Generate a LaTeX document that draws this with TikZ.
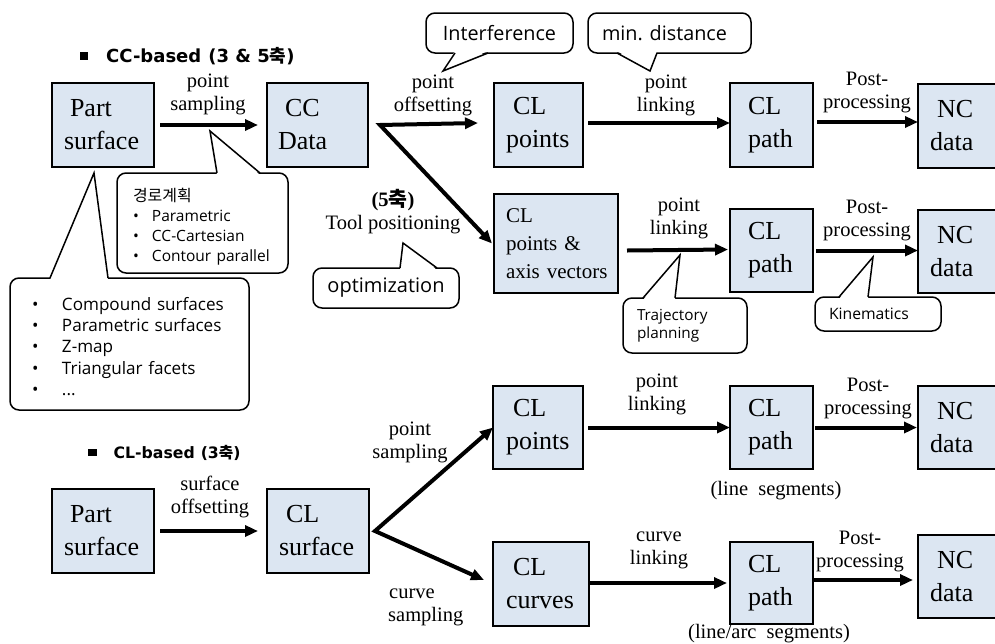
\documentclass[tikz,border=0pt]{standalone}
\usepackage{fontspec}
\setmainfont{Liberation Serif}
\newfontfamily\callfont{Open Sans}
\newfontfamily\cjk{Noto Sans CJK KR}
\newfontfamily\headfont{DejaVu Sans}
\usetikzlibrary{arrows.meta}
\definecolor{boxblue}{HTML}{DCE6F2}

\tikzset{
  box/.style={draw=black, line width=1.6pt, fill=boxblue, align=left,
    inner ysep=0pt, outer sep=0pt, anchor=north west,
    font=\fontsize{26}{33}\selectfont},
  geom/.style n args={3}{text width=#1pt, inner xsep=#2pt, minimum height=#3pt},
  arr/.style={line width=4pt, -{Triangle[length=13pt,width=11pt]}},
  fork/.style={line width=4pt, line join=miter,
    {Triangle[length=13pt,width=11pt]}-{Triangle[length=13pt,width=11pt]}},
  lbl/.style={align=center, inner sep=0pt, font=\fontsize{20.5}{23.5}\selectfont},
  callout/.style={draw=black, line width=1.5pt, fill=white, rounded corners=9pt,
    outer sep=0pt, anchor=north west, inner ysep=0pt},
  tail/.style={draw=black, line width=1.5pt, line join=miter},
  head/.style={anchor=base west, inner sep=0pt},
}
% one bullet entry of a callout list
\newcommand\bulletitem[2]{\mbox{\makebox[#1][l]{•}#2}}

\begin{document}
\begin{tikzpicture}[x=1pt,y=-1pt]
\useasboundingbox (0,0) rectangle (995,643);
\clip (0,0) rectangle (995,643);

% ---------------- section headers ----------------
\node[head, font=\headfont\bfseries\fontsize{18}{20}\selectfont] (h1) at (80,62)
  {\raisebox{2pt}{\rule{8pt}{8pt}}\hspace{18pt}CC-based\hspace{7pt}(3 \& 5{\cjk\bfseries 축})};
\node[head, font=\headfont\bfseries\fontsize{15.7}{18}\selectfont] (h2) at (88,458)
  {\raisebox{2pt}{\rule{8.5pt}{7.5pt}}\hspace{17pt}CL-based\hspace{6pt}(3{\cjk\bfseries 축})};

% ---------------- CC-based chain ----------------
\node[box, geom={78}{12}{84}] (ps1) at (52,83) {\hspace*{6pt}Part\\surface};
\node[box, geom={79}{11}{84}] (cc) at (267,83) {\hspace*{7pt}CC\\Data};
\node[box, geom={65}{12}{84}] (clp1) at (494,83) {\hspace*{7pt}CL\\points};
\node[box, geom={47}{18}{84}] (path1) at (730,83) {CL\\path};
\node[box, geom={76}{12}{84}] (nc1) at (918,84) {\hspace*{7pt}NC\\data};

\node[box, geom={100}{12}{99}, font=\fontsize{21}{28}\selectfont] (clax) at (494,194)
  {CL\\\mbox{points \&}\\\mbox{axis vectors}};
\node[box, geom={47}{18}{83}] (path2) at (730,209) {CL\\path};
\node[box, geom={76}{12}{83}] (nc2) at (918,210) {\hspace*{7pt}NC\\data};

% ---------------- CL-based chain ----------------
\node[box, geom={78}{12}{84}] (ps2) at (52,489) {\hspace*{6pt}Part\\surface};
\node[box, geom={78}{12}{84}] (cls) at (267,489) {\hspace*{7pt}CL\\surface};
\node[box, geom={64}{13}{83}] (clp3) at (493,386) {\hspace*{7pt}CL\\points};
\node[box, geom={47}{18}{83}] (path3) at (730,386) {CL\\path};
\node[box, geom={76}{12}{83}] (nc3) at (918,386) {\hspace*{7pt}NC\\data};
\node[box, geom={70}{13}{84}] (clc) at (493,542) {\hspace*{7pt}CL\\curves};
\node[box, geom={47}{18}{82}] (path4) at (730,542) {CL\\path};
\node[box, geom={76}{12}{83}] (nc4) at (918,535) {\hspace*{7pt}NC\\data};

% ---------------- arrows ----------------
\draw[arr] ([xshift=6pt]ps1.east) -- ([xshift=-9pt]cc.west);
\coordinate (f1) at ([xshift=12pt]cc.east);
\draw[fork] ([xshift=-16pt,yshift=2pt]clp1.west) -- (f1) -- ([xshift=-2pt]clax.west);
\draw[arr] ([xshift=5pt,yshift=2pt]clp1.east) -- ([yshift=2pt]path1.west);
\draw[arr] ([xshift=4pt,yshift=3pt]path1.east) -- ([yshift=3pt]path1.east -| nc1.west);
\draw[arr] ([xshift=9pt]clax.east |- path2.west) -- ([xshift=-2pt,yshift=1pt]path2.west);
\draw[arr] ([xshift=3pt]path2.east) -- (path2.east -| nc2.west);

\draw[arr] ([xshift=6pt]ps2.east) -- ([xshift=-9pt]cls.west);
\coordinate (f2) at ([xshift=6pt]cls.east);
\draw[fork] (clp3.west) -- (f2) -- ([xshift=-9pt,yshift=4pt]clc.west);
\draw[arr] ([xshift=5pt]clp3.east) -- (path3.west);
\draw[arr] ([xshift=2pt]path3.east) -- ([xshift=-1pt]path3.east -| nc3.west);
\draw[arr] (clc.east |- path4.west) -- ([xshift=-3pt]path4.west);
\coordinate (p4o) at ([yshift=3pt]path4.east);
\draw[arr] (p4o) -- ([xshift=-5pt]p4o -| nc4.west);

% ---------------- arrow labels ----------------
\node[lbl, anchor=south] (l1) at (208,115.5) {point\\sampling};
\node[lbl, anchor=south] (l2) at (433,116.5) {point\\offsetting};
\node[lbl, anchor=south] (l3) at (666,116.5) {point\\linking};
\node[lbl, anchor=south] (l4) at (867,113.5) {Post-\\processing};
\node[lbl, anchor=south] (l5) at (679,239.5) {point\\linking};
\node[lbl, anchor=south] (l6) at (867,241.5) {Post-\\processing};
\node[lbl, anchor=south] (l7) at (393,234.5) {{\bfseries (5{\cjk\bfseries 축})}\\Tool positioning};
\node[lbl, anchor=south] (l8) at (210,518.5) {surface\\offsetting};
\node[lbl, anchor=south] (l9) at (410,463.5) {point\\sampling};
\node[lbl, anchor=south west, align=left] (l10) at (388,626.5) {\hspace*{1pt}curve\\sampling};
\node[lbl, anchor=south] (l11) at (657,415.5) {point\\linking};
\node[lbl, anchor=south] (l12) at (868,419.5) {Post-\\processing};
\node[lbl, anchor=base] (l13) at (776,495) {(line\ \ segments)};
\node[lbl, anchor=south] (l14) at (659,569.5) {curve\\linking};
\node[lbl, anchor=south] (l15) at (860,572.5) {Post-\\processing};
\node[lbl, anchor=base] (l16) at (769,638) {(line/arc\ \ segments)};

% ---------------- callouts ----------------
% path planning methods
\node[callout, align=left, text width=139pt, inner xsep=16pt, minimum height=100pt,
  font=\callfont\fontsize{15.5}{20}\selectfont] (c1) at (117,173)
  {\rule{0pt}{20pt}{\cjk\fontsize{16}{20}\selectfont 경로계획}\\
   \bulletitem{19pt}{Parametric}\\
   \bulletitem{19pt}{CC-Cartesian}\\
   \bulletitem{19pt}{Contour parallel}};
\fill[white] (217,175) -- (210,131) -- (260,175) -- cycle;
\draw[tail] (217,173) -- (210,131) -- (260,173);

% surface representations
\node[callout, align=left, text width=195pt, inner xsep=22pt, minimum height=132pt,
  font=\callfont\fontsize{17.1}{21.2}\selectfont] (c2) at (10,278)
  {\rule{0pt}{18pt}\bulletitem{30pt}{Compound surfaces}\\
   \bulletitem{30pt}{Parametric surfaces}\\
   \bulletitem{30pt}{Z-map}\\
   \bulletitem{30pt}{Triangular facets}\\
   \bulletitem{30pt}{...}};
\fill[white] (50,280) -- (94,173) -- (108,280) -- cycle;
\draw[tail] (50,278) -- (94,173) -- (108,278);

% interference
\node[callout, align=center, minimum width=147pt, minimum height=40pt,
  font=\callfont\fontsize{19.8}{21}\selectfont] (c3) at (426,13) {Interference};
\fill[white] (455,51) -- (443,71) -- (488,51) -- cycle;
\draw[tail] (455,53) -- (443,71) -- (488,53);

% minimum distance
\node[callout, align=center, minimum width=163pt, minimum height=40pt,
  font=\callfont\fontsize{19.8}{21}\selectfont] (c4) at (588,13) {\hspace*{-10pt}min. distance};
\fill[white] (617,51) -- (650,71) -- (657,51) -- cycle;
\draw[tail] (617,53) -- (650,71) -- (657,53);

% optimization
\node[callout, align=center, minimum width=146pt, minimum height=40pt,
  font=\callfont\fontsize{20}{21}\selectfont] (c5) at (313,268) {optimization};
\fill[white] (400,270) -- (403,243) -- (437,270) -- cycle;
\draw[tail] (400,268) -- (403,243) -- (437,268);

% trajectory planning
\node[callout, align=left, text width=96pt, inner xsep=14pt, minimum height=55pt,
  font=\callfont\fontsize{15.3}{18}\selectfont] (c6) at (623,298) {Trajectory\\planning};
\fill[white] (643,300) -- (680,255) -- (675,300) -- cycle;
\draw[tail] (643,298) -- (680,255) -- (675,298);

% kinematics
\node[callout, align=left, text width=98pt, inner xsep=14pt, minimum height=34pt,
  font=\callfont\fontsize{15.7}{18}\selectfont] (c7) at (815,297) {Kinematics};
\fill[white] (839,299) -- (873,257) -- (868,299) -- cycle;
\draw[tail] (839,297) -- (873,257) -- (868,297);

\end{tikzpicture}
\end{document}
